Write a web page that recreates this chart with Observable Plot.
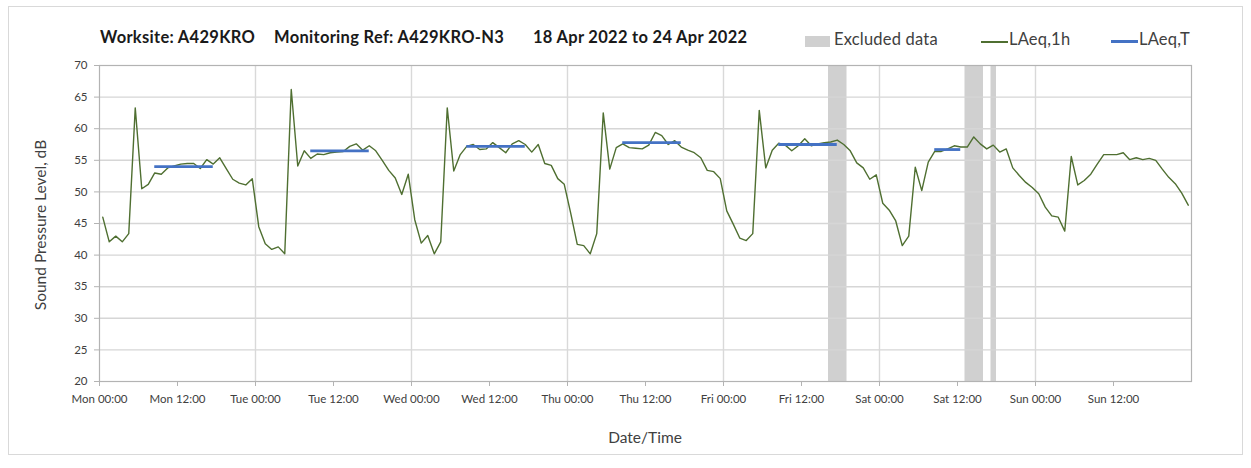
<!DOCTYPE html>
<html>
<head>
<meta charset="utf-8">
<script src="https://cdn.jsdelivr.net/npm/d3@7"></script>
<script src="https://cdn.jsdelivr.net/npm/@observablehq/plot@0.6"></script>
<style>
  body { margin: 0; background: #fff; font-family: Lato, "Open Sans", sans-serif; }
  #chart { position: relative; width: 1251px; height: 468px; overflow: hidden; }
  #border { position: absolute; left: 8px; top: 6px; width: 1235px; height: 449px; border: 1px solid #d9d9d9; box-sizing: border-box; }
  .title { position: absolute; top: 27px; font-weight: 700; font-size: 16.5px; letter-spacing: 0.3px; color: #1a1a1a; white-space: nowrap; }
  .leg { position: absolute; top: 29px; font-size: 16.5px; letter-spacing: 0.2px; color: #404040; white-space: nowrap; }
  .swatch { position: absolute; }
  .axis-title { position: absolute; font-size: 15.5px; color: #404040; white-space: nowrap; }
  #plot { position: absolute; left: 0; top: 50px; }
</style>
</head>
<body>
<div id="chart">
  <div id="border"></div>
  <div class="title" style="left:100px">Worksite: A429KRO</div>
  <div class="title" style="left:274px">Monitoring Ref: A429KRO-N3</div>
  <div class="title" style="left:533px">18 Apr 2022 to 24 Apr 2022</div>

  <div class="swatch" style="left:805px;top:36px;width:25px;height:11px;background:#d0d0d0"></div>
  <div class="leg" style="left:834px">Excluded data</div>
  <div class="swatch" style="left:981px;top:41px;width:27px;height:1.5px;background:#4f6f31"></div>
  <div class="leg" style="left:1009px">LAeq,1h</div>
  <div class="swatch" style="left:1111px;top:40px;width:27px;height:3px;background:#4472c4"></div>
  <div class="leg" style="left:1139px">LAeq,T</div>

  <div id="plot"></div>
  <div class="axis-title" style="left:40px;top:225px;transform:translate(-50%,-50%) rotate(-90deg)">Sound Pressure Level, dB</div>
  <div class="axis-title" style="left:645px;top:437px;transform:translate(-50%,-50%)">Date/Time</div>
</div>
<script>
// Hourly LAeq,1h values (dB), one array per day, 00:00–23:00 hours
const mon = [46.0, 42.1, 43.0, 42.1, 43.4, 63.3, 50.5, 51.2, 53.0, 52.8, 53.8, 54.1, 54.4, 54.5, 54.5, 53.7, 55.1, 54.4, 55.4, 53.7, 52.0, 51.4, 51.1, 52.1];
const tue = [44.5, 41.8, 40.9, 41.3, 40.2, 66.2, 54.1, 56.5, 55.3, 56.0, 55.9, 56.2, 56.3, 56.4, 57.2, 57.6, 56.6, 57.3, 56.5, 55.0, 53.4, 52.2, 49.6, 52.8];
const wed = [45.6, 41.9, 43.1, 40.2, 42.1, 63.3, 53.3, 55.9, 57.2, 57.5, 56.7, 56.8, 57.8, 57.0, 56.2, 57.6, 58.1, 57.5, 56.3, 57.5, 54.5, 54.2, 52.1, 51.2];
const thu = [46.6, 41.7, 41.5, 40.2, 43.4, 62.5, 53.6, 57.0, 57.6, 57.0, 56.9, 56.8, 57.4, 59.4, 58.9, 57.5, 58.1, 57.1, 56.6, 56.2, 55.4, 53.4, 53.2, 52.1];
const fri = [47.0, 44.9, 42.7, 42.3, 43.4, 62.9, 53.8, 56.6, 57.7, 57.4, 56.5, 57.3, 58.4, 57.3, 57.6, 57.8, 57.9, 58.2, 57.5, 56.5, 54.6, 53.8, 52.0, 52.7];
const sat = [48.2, 47.1, 45.4, 41.5, 43.0, 53.9, 50.2, 54.7, 56.4, 56.4, 56.8, 57.3, 57.1, 57.1, 58.7, 57.6, 56.8, 57.4, 56.3, 56.8, 53.8, 52.6, 51.5, 50.7];
const sun = [49.7, 47.6, 46.2, 46.0, 43.8, 55.6, 51.1, 51.8, 52.8, 54.4, 55.9, 55.9, 55.9, 56.2, 55.1, 55.4, 55.1, 55.3, 55.0, 53.6, 52.3, 51.3, 49.8, 47.9];

// LAeq,T over the working period of each day
const periodDays   = ["2022-04-18", "2022-04-19", "2022-04-20", "2022-04-21", "2022-04-22", "2022-04-23"];
const periodFrom   = ["08:30", "08:30", "08:30", "08:30", "08:30", "08:30"];
const periodTo     = ["17:30", "17:30", "17:30", "17:30", "17:30", "12:30"];
const periodLaeqT  = [54.0, 56.5, 57.2, 57.8, 57.5, 56.7];

// Hours excluded from assessment
const excludedFrom = ["2022-04-22T16:00", "2022-04-23T13:00", "2022-04-23T17:00"];
const excludedTo   = ["2022-04-22T19:00", "2022-04-23T16:00", "2022-04-23T18:00"];

// Axes
const yTicks = [20, 25, 30, 35, 40, 45, 50, 55, 60, 65, 70];
const xTickTimes = ["2022-04-18T00:00", "2022-04-18T12:00", "2022-04-19T00:00", "2022-04-19T12:00",
                    "2022-04-20T00:00", "2022-04-20T12:00", "2022-04-21T00:00", "2022-04-21T12:00",
                    "2022-04-22T00:00", "2022-04-22T12:00", "2022-04-23T00:00", "2022-04-23T12:00",
                    "2022-04-24T00:00", "2022-04-24T12:00"];
const xStart = "2022-04-18T00:00";
const xEnd = "2022-04-25T00:00";

const utc = s => new Date(s + (s.length > 10 ? "Z" : "T00:00Z"));
const HOUR = 3600e3;

// Each hourly value is plotted at the middle of its hour
const hourly = [mon, tue, wed, thu, fri, sat, sun].flat().map((v, i) => ({
  time: new Date(utc(xStart).getTime() + (i + 0.5) * HOUR),
  value: v
}));
const periods = periodDays.map((d, i) => ({
  from: utc(`${d}T${periodFrom[i]}`),
  to: utc(`${d}T${periodTo[i]}`),
  value: periodLaeqT[i]
}));
const excluded = excludedFrom.map((f, i) => ({ from: utc(f), to: utc(excludedTo[i]) }));
const xTicks = xTickTimes.map(utc);
const dayLines = xTicks.filter(t => t.getUTCHours() === 0 && t > utc(xStart));
const fmt = d3.utcFormat("%a %H:%M");

const chart = Plot.plot({
  width: 1251,
  height: 410,
  marginLeft: 99,
  marginRight: 60,
  marginTop: 15,
  marginBottom: 79,
  style: { fontFamily: "Lato, 'Open Sans', sans-serif", fontSize: "11.5px", color: "#404040", background: "transparent" },
  x: { type: "utc", domain: [utc(xStart), utc(xEnd)] },
  y: { domain: [20, 70] },
  marks: [
    Plot.rect(excluded, { x1: "from", x2: "to", fill: "#d0d0d0", insetLeft: 1 }),
    Plot.gridY(yTicks.slice(1, -1), { stroke: "#d6d6d6", strokeOpacity: 1, strokeWidth: 1.4 }),
    Plot.gridX(dayLines, { stroke: "#d9d9d9", strokeOpacity: 1, strokeWidth: 1.4 }),
    Plot.frame({ stroke: "#b3b3b3", strokeWidth: 1.2 }),
    Plot.axisY(yTicks, { tickSize: 5, tickPadding: 7, stroke: "#b3b3b3", fill: "#404040", label: null }),
    Plot.axisX(xTicks, { tickSize: 5, tickPadding: 8, stroke: "#b3b3b3", fill: "#404040", tickFormat: fmt, label: null }),
    Plot.line(hourly, { x: "time", y: "value", stroke: "#4f6f31", strokeWidth: 1.4 }),
    Plot.ruleY(periods, { x1: "from", x2: "to", y: "value", stroke: "#4472c4", strokeWidth: 2.8 })
  ]
});
document.getElementById("plot").appendChild(chart);
</script>
</body>
</html>
